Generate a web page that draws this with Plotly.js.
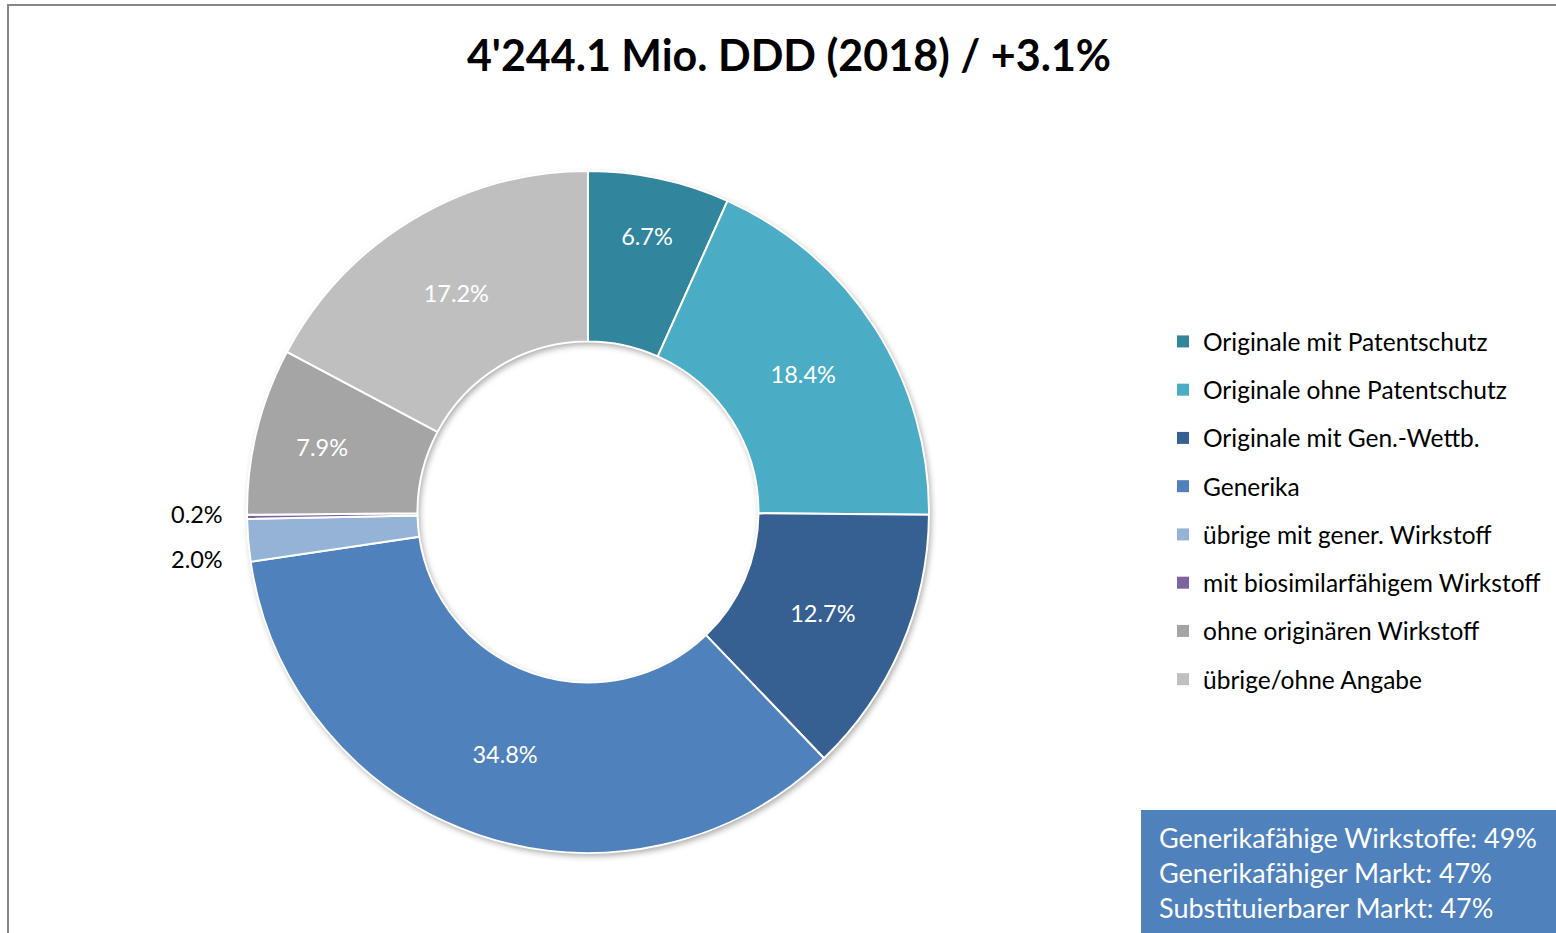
<!DOCTYPE html>
<html>
<head>
<meta charset="utf-8">
<script src="https://cdn.plot.ly/plotly-3.0.1.min.js"></script>
<style>html,body{margin:0;padding:0;background:#fff;}#chart{width:1556px;height:933px;}</style>
</head>
<body>
<div id="chart"></div>
<script>
const titleText = "4'244.1 Mio. DDD (2018) / +3.1%";
const categories = [
  "Originale mit Patentschutz",
  "Originale ohne Patentschutz",
  "Originale mit Gen.-Wettb.",
  "Generika",
  "übrige mit gener. Wirkstoff",
  "mit biosimilarfähigem Wirkstoff",
  "ohne originären Wirkstoff",
  "übrige/ohne Angabe"
];
const shares = [6.7, 18.4, 12.7, 34.8, 2.0, 0.2, 7.9, 17.2];
const colors = ["#31859C", "#4BACC6", "#376092", "#4F81BD", "#95B3D7", "#8064A2", "#A5A5A5", "#BFBFBF"];
const infoLines = [
  "Generikafähige Wirkstoffe: 49%",
  "Generikafähiger Markt: 47%",
  "Substituierbarer Markt: 47%"
];

const W = 1556, H = 933;
const FONT = "Lato, 'Open Sans', sans-serif";
const pieDomain = {x: [247 / W, 929 / W], y: [80 / H, 762 / H]};

const isSmall = shares.map(v => v < 3);
const textPos = isSmall.map(s => s ? "none" : "inside");

const shadowPie = {
  type: "pie",
  values: [1],
  labels: ["shadow"],
  hole: 0.5,
  sort: false,
  marker: {colors: ["#FFFFFF"], line: {width: 0}},
  textinfo: "none",
  showlegend: false,
  hoverinfo: "skip",
  domain: pieDomain
};

const pie = {
  type: "pie",
  labels: categories,
  values: shares,
  sort: false,
  direction: "clockwise",
  rotation: 0,
  hole: 0.5,
  marker: {colors: colors, line: {color: "#FFFFFF", width: 2}},
  texttemplate: "%{value:.1f}%",
  textinfo: "text",
  textposition: textPos,
  insidetextorientation: "horizontal",
  insidetextfont: {family: FONT, size: 23.5, color: "#FFFFFF"},
  showlegend: false,
  domain: pieDomain,
  automargin: false,
  hoverinfo: "label+value"
};

const legendTraces = categories.map((c, i) => ({
  type: "scatter",
  x: [null], y: [null],
  mode: "markers",
  name: c,
  legendgroup: "g" + i,
  marker: {symbol: "square", size: 12, color: colors[i]},
  hoverinfo: "skip"
}));

// outside labels for the two small slices (5: 0.2%, 4: 2.0%)
const smallLabelY = {5: 514, 4: 559};
const smallAnnotations = shares.map((v, i) => isSmall[i] ? {
  xref: "paper", yref: "paper", x: 225 / W, y: 1 - smallLabelY[i] / H,
  xanchor: "right", yanchor: "middle", showarrow: false,
  text: v.toFixed(1) + "%",
  font: {family: FONT, size: 23.5, color: "#000000"}
} : null).filter(a => a);

const layout = {
  width: W, height: H,
  margin: {l: 0, r: 0, t: 0, b: 0},
  paper_bgcolor: "#FFFFFF",
  plot_bgcolor: "rgba(0,0,0,0)",
  title: {
    text: "<b>" + titleText + "</b>",
    font: {family: FONT, size: 43, color: "#000000"},
    x: 789 / W, xanchor: "center",
    y: 1 - 56 / H, yanchor: "middle"
  },
  xaxis: {visible: false},
  yaxis: {visible: false},
  showlegend: true,
  legend: {
    x: 1163 / W, xanchor: "left",
    y: 1 - 319 / H, yanchor: "top",
    font: {family: FONT, size: 24.5, color: "#000000"},
    tracegroupgap: 13.4,
    traceorder: "grouped",
    bgcolor: "rgba(0,0,0,0)"
  },
  shapes: [
    {type: "rect", xref: "paper", yref: "paper",
     x0: 8 / W, x1: 1.05, y0: -0.05, y1: 1 - 5 / H,
     line: {color: "#878787", width: 2}, fillcolor: "rgba(0,0,0,0)", layer: "below"},
    {type: "rect", xref: "paper", yref: "paper",
     x0: 1141 / W, x1: 1.01, y0: -0.01, y1: 1 - 810 / H,
     line: {width: 0}, fillcolor: "#4F81BD", layer: "above"}
  ],
  annotations: smallAnnotations.concat([
    {xref: "paper", yref: "paper", x: 1157 / W, y: 1 - 872 / H,
     xanchor: "left", yanchor: "middle", align: "left", showarrow: false,
     text: infoLines.join("<br>"),
     font: {family: FONT, size: 27, color: "#FFFFFF"}}
  ])
};

Plotly.newPlot("chart", [shadowPie, pie].concat(legendTraces), layout, {displayModeBar: false, staticPlot: true})
  .then(() => {
    const traces = document.querySelectorAll(".pielayer .trace");
    if (traces.length) traces[0].style.filter = "drop-shadow(2px 3px 3px rgba(0,0,0,0.35))";
  });
</script>
</body>
</html>
